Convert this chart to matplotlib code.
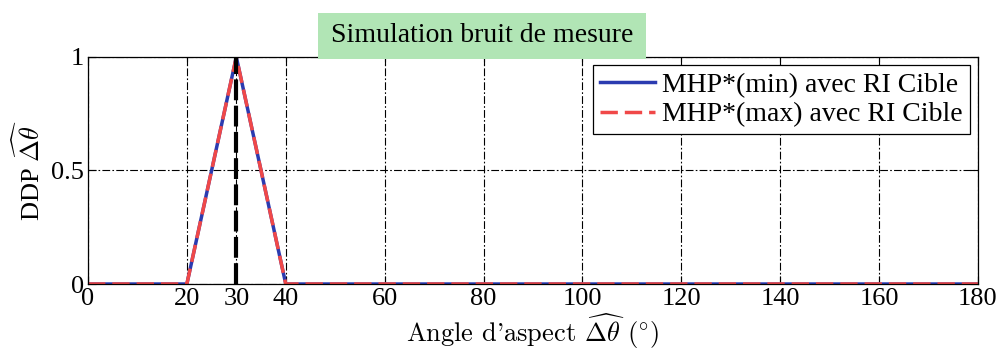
import matplotlib
matplotlib.use("Agg")
import matplotlib.pyplot as plt
from matplotlib.patches import Rectangle

plt.rcParams['font.family'] = ['Liberation Serif', 'DejaVu Serif']
plt.rcParams['mathtext.fontset'] = 'cm'

# data
angleMin = [0, 20, 30, 40, 180]
ddpMin = [0, 0, 1, 0, 0]
angleMax = [0, 20, 30, 40, 180]
ddpMax = [0, 0, 1, 0, 0]
targetAngle = 30
xTicks = [0, 20, 30, 40, 60, 80, 100, 120, 140, 160, 180]
yTicks = [0, 0.5, 1]
yTickLabels = ['0', '0.5', '1']

fig = plt.figure(figsize=(10.01, 3.6), dpi=100)
ax = fig.add_axes([0.0879, 0.2111, 0.8891, 0.6306])

ax.plot(angleMin, ddpMin, color='#2b3bb0', lw=2.5, label='MHP*(min) avec RI Cible')
ax.plot(angleMax, ddpMax, color='#f04848', lw=2.5, ls=(0, (5, 2)), label='MHP*(max) avec RI Cible')
ax.plot([targetAngle, targetAngle], [0, 1], color='black', lw=3, ls=(0, (5, 1.3)))

ax.set_xlim(0, 180)
ax.set_ylim(0, 1)
ax.set_xticks(xTicks)
ax.set_yticks(yTicks)
ax.set_yticklabels(yTickLabels)
ax.tick_params(direction='in', labelsize=19, length=6, top=True, right=True, pad=3)
ax.grid(True, color='black', ls=(0, (7, 2, 1.5, 2)), lw=0.8)
for s in ax.spines.values():
    s.set_linewidth(0.9)

ax.set_xlabel(r"Angle d'aspect $\widehat{\Delta\theta}$ $(^{\circ})$", fontsize=19,
              labelpad=1, fontfamily=['cmr10', 'DejaVu Serif'])
ax.set_ylabel(r"DDP $\widehat{\Delta\theta}$", fontsize=19, labelpad=4)

leg = ax.legend(loc='upper right', fontsize=20, fancybox=False, edgecolor='black',
                framealpha=1, borderaxespad=0.3, handlelength=2.0, labelspacing=0.15,
                borderpad=0.25, handletextpad=0.25)
leg.get_frame().set_linewidth(0.9)

# title box
fig.patches.append(Rectangle((318 / 1001, 1 - 59 / 360), 328 / 1001, 46 / 360,
                             transform=fig.transFigure, facecolor='#b1e5b5',
                             edgecolor='none', zorder=5))
fig.text(482 / 1001, 1 - 36 / 360, 'Simulation bruit de mesure', fontsize=20,
         ha='center', va='center', zorder=6)

fig.savefig('out.png', dpi=100)
